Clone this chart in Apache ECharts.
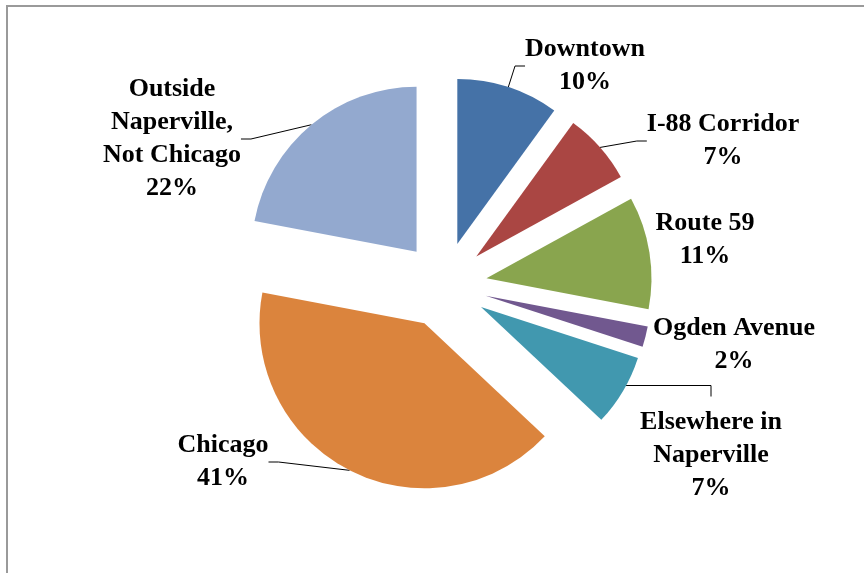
<!DOCTYPE html>
<html>
<head>
<meta charset="utf-8">
<script src="https://cdn.jsdelivr.net/npm/echarts@6/dist/echarts.min.js"></script>
<style>
  html, body { margin: 0; padding: 0; background: #fff; }
  #main { width: 864px; height: 573px; }
</style>
</head>
<body>
<div id="main"></div>
<script>
// categories, clockwise from 12 o'clock
const categories = ['Downtown', 'I-88 Corridor', 'Route 59', 'Ogden Avenue', 'Elsewhere in\nNaperville', 'Chicago', 'Outside\nNaperville,\nNot Chicago']
const shares = [10, 7, 11, 2, 7, 41, 22]
const colors = ['#4572A7', '#AA4643', '#89A54E', '#71588F', '#4198AF', '#DB843D', '#93A9CF']
// labels sitting next to their slice get no leader line
const noLeader = ['Route 59', 'Ogden Avenue']
// leader comes in from above the label
const leaderFromTop = ['Elsewhere in\nNaperville']

// where Excel put each label (block centre)
const labelSpots = {
    'Downtown': [585, 66],
    'I-88 Corridor': [723, 141],
    'Route 59': [705, 240],
    'Ogden Avenue': [734, 345],
    'Elsewhere in\nNaperville': [711, 455],
    'Chicago': [223, 462],
    'Outside\nNaperville,\nNot Chicago': [172, 139]
}

const pieCenter = [444, 285],
    pieRadius = 165,
    explode = 43 // px each slice is pulled out

const chart = echarts.init(document.getElementById('main'))
const total = shares.reduce((a, b) => a + b, 0)

// one series per slice so every slice can be pulled out on its own
let cum = 0
const series = categories.map((name, i) => {
    const start = cum
    cum += shares[i]
    const mid = (start + shares[i] / 2) / total * Math.PI * 2
    const sc = [pieCenter[0] + explode * Math.sin(mid), pieCenter[1] - explode * Math.cos(mid)]
    return {
        type: 'pie',
        center: sc,
        radius: pieRadius,
        startAngle: 90 - start / total * 360,
        clockwise: true,
        avoidLabelOverlap: false,
        silent: true,
        label: {
            show: true,
            formatter: p => p.name + '\n' + p.value + '%',
            fontFamily: 'Liberation Serif',
            fontWeight: 'bold',
            fontSize: 26,
            lineHeight: 33,
            color: '#000'
        },
        labelLine: {
            show: noLeader.indexOf(name) < 0,
            length: 10,
            length2: 10,
            smooth: false,
            lineStyle: { color: '#000', width: 1 }
        },
        labelLayout: function (params) {
            const spot = labelSpots[name]
            const out = { x: spot[0], y: spot[1], align: 'center', verticalAlign: 'middle' }
            if (leaderFromTop.indexOf(name) > -1) {
                // elbow line: off the slice edge, across, then down towards the label
                const top = spot[1] - params.labelRect.height / 2
                const ey = top - 20
                const th = Math.acos((sc[1] - ey) / pieRadius)
                out.labelLinePoints = [[sc[0] + pieRadius * Math.sin(th), ey], [spot[0], ey], [spot[0], top - 9]]
            }
            return out
        },
        data: [
            { name: name, value: shares[i], itemStyle: { color: colors[i] } },
            {
                name: '', value: total - shares[i],
                itemStyle: { color: 'rgba(0,0,0,0)' },
                label: { show: false }, labelLine: { show: false }
            }
        ]
    }
})

chart.setOption({
    animation: false,
    graphic: [{
        type: 'rect',
        shape: { x: 7, y: 6, width: 900, height: 600 },
        style: { fill: 'none', stroke: '#9a9a9a', lineWidth: 2 },
        silent: true
    }],
    series: series
})
</script>
</body>
</html>
